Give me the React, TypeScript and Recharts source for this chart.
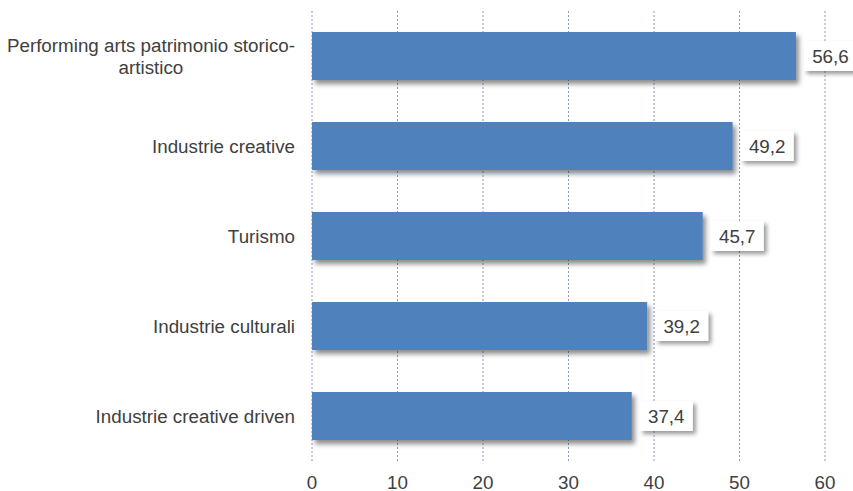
import { Bar, BarChart, CartesianGrid, LabelList, XAxis, YAxis } from "recharts";

const categories = [
  "Performing arts patrimonio storico-\nartistico",
  "Industrie creative",
  "Turismo",
  "Industrie culturali",
  "Industrie creative driven",
];
const values = [56.6, 49.2, 45.7, 39.2, 37.4];
const xTicks = [0, 10, 20, 30, 40, 50, 60];

const data = categories.map((name, i) => ({ name, value: values[i] }));

const FONT = '"Liberation Sans", Arial, sans-serif';
const TEXT = "#404040";
const SIZE = 18.8;

let ctx: CanvasRenderingContext2D | null = null;
function textWidth(s: string, size: number) {
  if (!ctx) ctx = document.createElement("canvas").getContext("2d");
  if (!ctx) return s.length * size * 0.5;
  ctx.font = `${size}px ${FONT}`;
  return ctx.measureText(s).width;
}

function CategoryTick(props: any) {
  const { x, y, payload } = props;
  const lines: string[] = String(payload.value).split("\n");
  const lead = 22;
  const first = textWidth(lines[0], SIZE);
  const top = y - ((lines.length - 1) * lead) / 2 + 6.5;
  return (
    <g>
      {lines.map((line, i) => (
        <text
          key={i}
          x={i === 0 ? x : x - first / 2}
          y={top + i * lead}
          textAnchor={i === 0 ? "end" : "middle"}
          fontSize={SIZE}
          fontFamily={FONT}
          fill={TEXT}
        >
          {line}
        </text>
      ))}
    </g>
  );
}

function ValueLabel(props: any) {
  const { x, y, width, height, value } = props;
  const bx = x + width + 8;
  const cy = y + height / 2;
  return (
    <g>
      <rect x={bx} y={cy - 15} width={53} height={30} fill="#fff" filter="url(#boxShadow)" />
      <text
        x={bx + 26.5}
        y={cy + 6.5}
        textAnchor="middle"
        fontSize={SIZE}
        fontFamily={FONT}
        fill={TEXT}
      >
        {String(value).replace(".", ",")}
      </text>
    </g>
  );
}

export default function App() {
  return (
    <div style={{ position: "absolute", left: 0, top: 0, background: "#fff" }}>
      <BarChart
        width={853}
        height={491}
        data={data}
        layout="vertical"
        margin={{ top: 11, right: 28, bottom: 0, left: 0 }}
        barSize={48}
      >
        <defs>
          <filter id="barShadow" x="-5%" y="-20%" width="115%" height="160%">
            <feDropShadow dx={3} dy={4} stdDeviation={2.5} floodColor="#000" floodOpacity={0.45} />
          </filter>
          <filter id="boxShadow" x="-20%" y="-30%" width="150%" height="180%">
            <feDropShadow dx={3} dy={3} stdDeviation={2} floodColor="#000" floodOpacity={0.4} />
          </filter>
        </defs>
        <CartesianGrid horizontal={false} stroke="#8a9cba" strokeDasharray="2 2" />
        <XAxis
          type="number"
          domain={[0, 60]}
          ticks={xTicks}
          height={30}
          axisLine={false}
          tickLine={false}
          tickSize={0}
          tickMargin={15}
          tick={{ fontSize: SIZE, fill: TEXT, fontFamily: FONT }}
        />
        <YAxis
          type="category"
          dataKey="name"
          width={312}
          axisLine={false}
          tickLine={false}
          tickSize={0}
          tickMargin={17}
          interval={0}
          tick={<CategoryTick />}
        />
        <Bar dataKey="value" fill="#4f81bd" filter="url(#barShadow)" isAnimationActive={false}>
          <LabelList dataKey="value" content={<ValueLabel />} />
        </Bar>
      </BarChart>
    </div>
  );
}
